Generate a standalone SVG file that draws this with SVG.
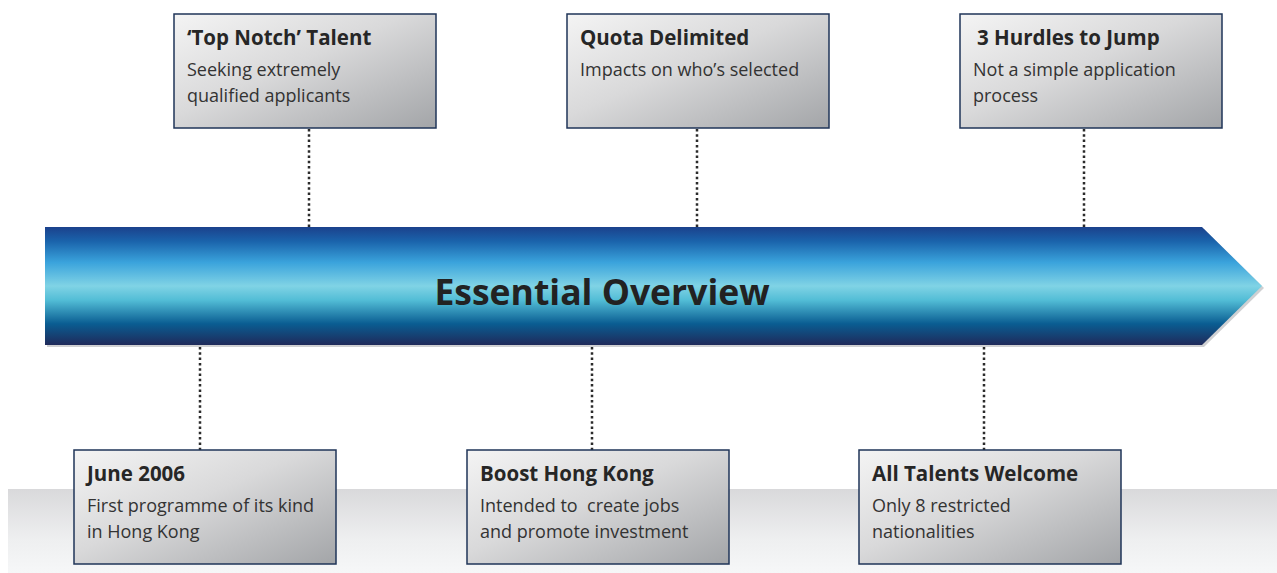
<svg xmlns="http://www.w3.org/2000/svg" width="1277" height="573" viewBox="0 0 1277 573">
  <defs>
    <linearGradient id="floor" x1="0" y1="0" x2="0" y2="1">
      <stop offset="0" stop-color="#d9d9db"/>
      <stop offset="0.6" stop-color="#eeeff0"/>
      <stop offset="1" stop-color="#f6f7f8"/>
    </linearGradient>
    <linearGradient id="boxfill" x1="0" y1="0" x2="1" y2="1">
      <stop offset="0" stop-color="#f4f4f4"/>
      <stop offset="0.45" stop-color="#d9d9da"/>
      <stop offset="1" stop-color="#a3a5a8"/>
    </linearGradient>
    <linearGradient id="band" x1="0" y1="0" x2="0" y2="1">
      <stop offset="0" stop-color="#1b418c"/>
      <stop offset="0.12" stop-color="#1a63ab"/>
      <stop offset="0.3" stop-color="#3aa3dc"/>
      <stop offset="0.5" stop-color="#80d3e5"/>
      <stop offset="0.62" stop-color="#52bdd6"/>
      <stop offset="0.82" stop-color="#0a5d92"/>
      <stop offset="1" stop-color="#1f2a5a"/>
    </linearGradient>
  </defs>
  <style>
    .box { fill: url(#boxfill); stroke: #1f3458; stroke-width: 1.5; }
    .ttl { font-family: "Open Sans", Lato, sans-serif; font-weight: bold; font-size: 20.5px; fill: #262626; }
    .body { font-family: "Open Sans", Lato, sans-serif; font-size: 18px; fill: #333333; }
    .dot { stroke: #2b2b2b; stroke-width: 2.5; stroke-dasharray: 2.5 2.8; fill: none; }
    .main { font-family: "Open Sans", Lato, sans-serif; font-weight: bold; font-size: 35.5px; fill: #222222; }
  </style>

  <rect x="8" y="489" width="1269" height="84" fill="url(#floor)"/>

  <g id="connectors">
    <line class="dot" x1="309" y1="129" x2="309" y2="228"/>
    <line class="dot" x1="697" y1="129" x2="697" y2="228"/>
    <line class="dot" x1="1084" y1="129" x2="1084" y2="228"/>
    <line class="dot" x1="200" y1="347" x2="200" y2="450"/>
    <line class="dot" x1="592" y1="347" x2="592" y2="450"/>
    <line class="dot" x1="984" y1="347" x2="984" y2="450"/>
  </g>

  <g id="arrow">
    <polygon points="47,229 1204,229 1264,288 1204,347 47,347" fill="#cfd0d2"/>
    <polygon points="45,227 1202,227 1262,286 1202,345 45,345" fill="url(#band)"/>
    <text class="main" x="602" y="305" text-anchor="middle">Essential Overview</text>
  </g>

  <g id="node-top-notch">
    <rect class="box" x="174" y="14" width="262" height="114"/>
    <text class="ttl" x="187" y="45">‘Top Notch’ Talent</text>
    <text class="body" x="187" y="76">Seeking extremely</text>
    <text class="body" x="187" y="102">qualified applicants</text>
  </g>
  <g id="node-quota">
    <rect class="box" x="567" y="14" width="262" height="114"/>
    <text class="ttl" x="580" y="45">Quota Delimited</text>
    <text class="body" x="580" y="76">Impacts on who’s selected</text>
  </g>
  <g id="node-hurdles">
    <rect class="box" x="960" y="14" width="262" height="114"/>
    <text class="ttl" x="977" y="45">3 Hurdles to Jump</text>
    <text class="body" x="973" y="76">Not a simple application</text>
    <text class="body" x="973" y="102">process</text>
  </g>
  <g id="node-june">
    <rect class="box" x="74" y="450" width="262" height="114"/>
    <text class="ttl" x="87" y="481">June 2006</text>
    <text class="body" x="87" y="512">First programme of its kind</text>
    <text class="body" x="87" y="538">in Hong Kong</text>
  </g>
  <g id="node-boost">
    <rect class="box" x="467" y="450" width="262" height="114"/>
    <text class="ttl" x="480" y="481">Boost Hong Kong</text>
    <text class="body" x="480" y="512" xml:space="preserve">Intended to  create jobs</text>
    <text class="body" x="480" y="538">and promote investment</text>
  </g>
  <g id="node-talents">
    <rect class="box" x="859" y="450" width="262" height="114"/>
    <text class="ttl" x="872" y="481">All Talents Welcome</text>
    <text class="body" x="872" y="512">Only 8 restricted</text>
    <text class="body" x="872" y="538">nationalities</text>
  </g>
</svg>
